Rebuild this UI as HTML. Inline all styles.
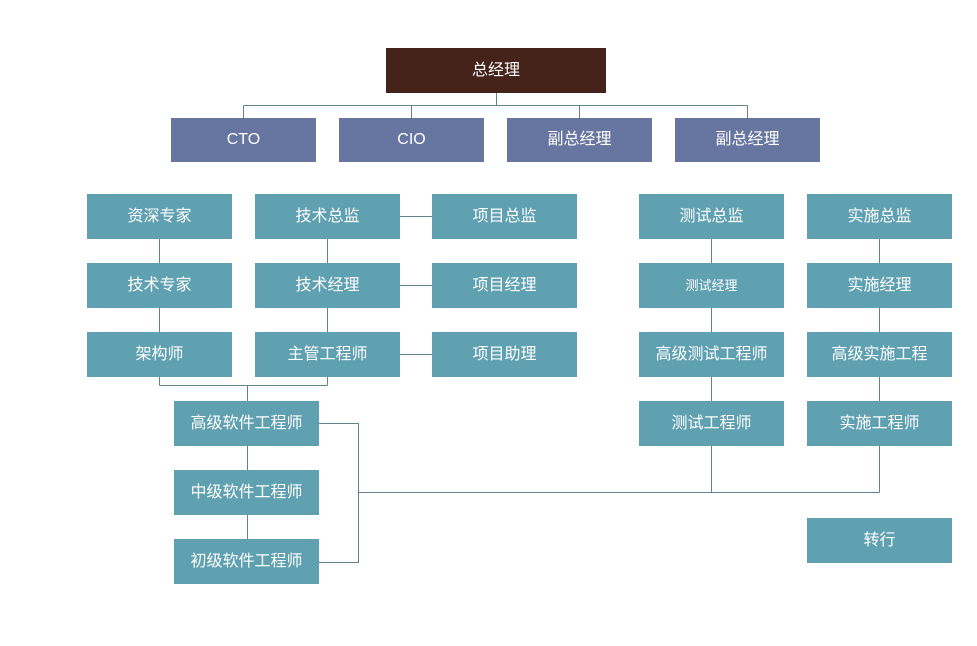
<!DOCTYPE html>
<html>
<head>
<meta charset="utf-8">
<style>
html,body{margin:0;padding:0;background:#fff;}
body{width:977px;height:646px;position:relative;overflow:hidden;font-family:"Liberation Sans","Noto Sans CJK SC",sans-serif;}
.b{position:absolute;width:145px;height:45px;background:#5fa0b1;color:#fff;font-size:16px;line-height:45px;text-align:center;white-space:nowrap;overflow:hidden;}
.s{background:#6676a0;height:44px;line-height:44px;}
.d{background:#45231b;}
svg{position:absolute;left:0;top:0;}
</style>
</head>
<body>
<svg width="977" height="646" viewBox="0 0 977 646">
<g stroke="#5f8588" stroke-width="1" fill="none" shape-rendering="crispEdges">
<path d="M496.5 93V105.5M243.5 105.5H747.5M243.5 105.5V118M411.5 105.5V118M579.5 105.5V118M747.5 105.5V118"/>
<path d="M159.5 239V263M159.5 308V332M159.5 377V385.5"/>
<path d="M327.5 239V263M327.5 308V332M327.5 377V385.5"/>
<path d="M159.5 385.5H327.5M247.5 385.5V401"/>
<path d="M399 216.5H432M399 285.5H432M399 354.5H432"/>
<path d="M711.5 239V263M711.5 308V332M711.5 377V401M711.5 446V492.5"/>
<path d="M879.5 239V263M879.5 308V332M879.5 377V401M879.5 446V492.5"/>
<path d="M247.5 446V470M247.5 515V539"/>
<path d="M319 423.5H358.5V562.5H319M358.5 492.5H879.5"/>
</g>
</svg>

<div class="b d" style="left:386px;top:48px;width:220px;">总经理</div>

<div class="b s" style="left:171px;top:118px;">CTO</div>
<div class="b s" style="left:339px;top:118px;">CIO</div>
<div class="b s" style="left:507px;top:118px;">副总经理</div>
<div class="b s" style="left:675px;top:118px;">副总经理</div>

<div class="b" style="left:87px;top:194px;">资深专家</div>
<div class="b" style="left:255px;top:194px;">技术总监</div>
<div class="b" style="left:432px;top:194px;">项目总监</div>
<div class="b" style="left:639px;top:194px;">测试总监</div>
<div class="b" style="left:807px;top:194px;">实施总监</div>

<div class="b" style="left:87px;top:263px;">技术专家</div>
<div class="b" style="left:255px;top:263px;">技术经理</div>
<div class="b" style="left:432px;top:263px;">项目经理</div>
<div class="b" style="left:639px;top:263px;font-size:13px;">测试经理</div>
<div class="b" style="left:807px;top:263px;">实施经理</div>

<div class="b" style="left:87px;top:332px;">架构师</div>
<div class="b" style="left:255px;top:332px;">主管工程师</div>
<div class="b" style="left:432px;top:332px;">项目助理</div>
<div class="b" style="left:639px;top:332px;">高级测试工程师</div>
<div class="b" style="left:807px;top:332px;">高级实施工程</div>

<div class="b" style="left:174px;top:401px;">高级软件工程师</div>
<div class="b" style="left:174px;top:470px;">中级软件工程师</div>
<div class="b" style="left:174px;top:539px;">初级软件工程师</div>

<div class="b" style="left:639px;top:401px;">测试工程师</div>
<div class="b" style="left:807px;top:401px;">实施工程师</div>

<div class="b" style="left:807px;top:518px;">转行</div>
</body>
</html>
